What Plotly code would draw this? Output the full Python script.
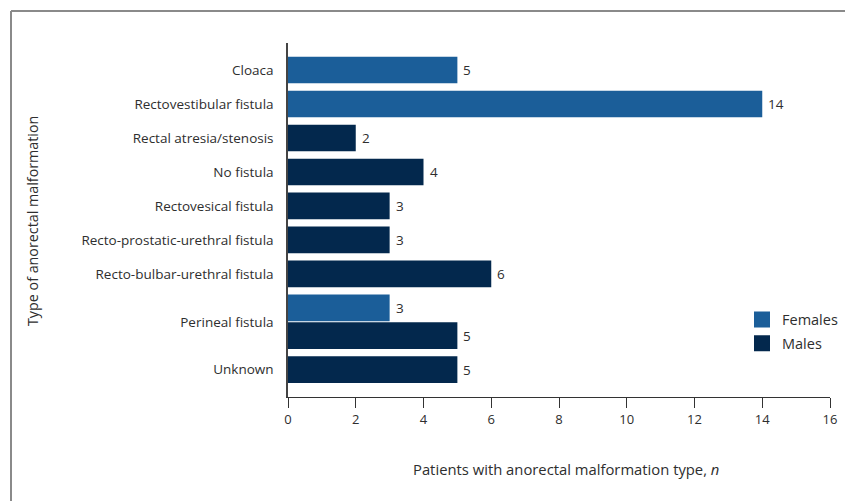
import plotly.graph_objects as go

# ---- data ----
categories = ["Cloaca", "Rectovestibular fistula", "Rectal atresia/stenosis", "No fistula",
              "Rectovesical fistula", "Recto-prostatic-urethral fistula",
              "Recto-bulbar-urethral fistula", "Perineal fistula", "Unknown"]
females = [5, 14, None, None, None, None, None, 3, None]
males = [None, None, 2, 4, 3, 3, 6, 5, 5]
x_ticks = [0, 2, 4, 6, 8, 10, 12, 14, 16]

FEM_COLOR = "#1B5E99"
MAL_COLOR = "#03284D"
TXT = "#2e2e2e"
FONT = "Open Sans"

# ---- category positions (derived from the number of bars per category) ----
BAR_W = 0.785
GAP = 0.03
nbars = [int(f is not None) + int(m is not None) for f, m in zip(females, males)]
extra = (BAR_W + GAP) / 2
centers = []
for i, n in enumerate(nbars):
    if i == 0:
        centers.append(0.0)
    else:
        centers.append(centers[-1] + 1 + extra * (nbars[i - 1] - 1) + extra * (n - 1))

fem_y, fem_x, mal_y, mal_x = [], [], [], []
for c, n, f, m in zip(centers, nbars, females, males):
    if n == 2:
        fem_y.append(c - extra); fem_x.append(f)
        mal_y.append(c + extra); mal_x.append(m)
    else:
        if f is not None:
            fem_y.append(c); fem_x.append(f)
        if m is not None:
            mal_y.append(c); mal_x.append(m)

fig = go.Figure()
fig.add_trace(go.Bar(y=fem_y, x=fem_x, orientation="h", name="Females", showlegend=False,
                     marker=dict(color=FEM_COLOR, line=dict(width=0)), width=BAR_W))
fig.add_trace(go.Bar(y=mal_y, x=mal_x, orientation="h", name="Males", showlegend=False,
                     marker=dict(color=MAL_COLOR, line=dict(width=0)), width=BAR_W))
# legend entries with larger square swatches
fig.add_trace(go.Scatter(x=[None], y=[None], mode="markers", name="Females", legendgroup="f",
                         marker=dict(symbol="square", size=16, color=FEM_COLOR)))
fig.add_trace(go.Scatter(x=[None], y=[None], mode="markers", name="Males", legendgroup="m",
                         marker=dict(symbol="square", size=16, color=MAL_COLOR)))

# ---- geometry ----
W, H = 837, 493
ml, mr, mt, mb = 280, 15, 35, 104
PW = W - ml - mr
PH = H - mt - mb


def px_x(x):
    return (x - ml) / PW


def px_y(y):
    return (H - mb - y) / PH


annotations = []
for yy, xx in list(zip(fem_y, fem_x)) + list(zip(mal_y, mal_x)):
    annotations.append(dict(x=xx, y=yy, xref="x", yref="y", text=str(xx), showarrow=False,
                            xanchor="left", yanchor="middle", xshift=4,
                            font=dict(family=FONT, size=13.5, color=TXT)))

annotations.append(dict(x=px_x(25), y=px_y(213), xref="paper", yref="paper",
                        text="Type of anorectal malformation", textangle=-90, showarrow=False,
                        xanchor="center", yanchor="middle",
                        font=dict(family=FONT, size=14.3, color=TXT)))
annotations.append(dict(x=px_x(558), y=px_y(461), xref="paper", yref="paper",
                        text="Patients with anorectal malformation type, <i>n</i>", showarrow=False,
                        xanchor="center", yanchor="middle",
                        font=dict(family=FONT, size=14.8, color=TXT)))

y_top = -0.794
y_bot = 9.62

fig.update_layout(
    width=W, height=H, autosize=False,
    margin=dict(l=ml, r=mr, t=mt, b=mb, autoexpand=False),
    paper_bgcolor="white", plot_bgcolor="white",
    barmode="overlay",
    showlegend=True,
    legend=dict(xref="container", yref="container", x=734 / W, y=1 - 323.5 / H,
                xanchor="left", yanchor="middle",
                font=dict(family=FONT, size=14.5, color=TXT),
                itemwidth=30, tracegroupgap=2, bgcolor="rgba(0,0,0,0)"),
    font=dict(family=FONT, color=TXT),
    annotations=annotations,
    shapes=[
        dict(type="line", xref="paper", yref="paper",
             x0=px_x(3), x1=1.2, y0=px_y(3), y1=px_y(3),
             line=dict(color="#8a8a8a", width=2)),
        dict(type="line", xref="paper", yref="paper",
             x0=px_x(3), x1=px_x(3), y0=px_y(3), y1=-0.5,
             line=dict(color="#8a8a8a", width=2)),
    ],
)

fig.update_xaxes(range=[0, 16], tickvals=x_ticks, ticks="outside", ticklen=10,
                 tickcolor="#333", tickwidth=1, showline=True, linecolor="#333", linewidth=1,
                 showgrid=False, zeroline=False, fixedrange=True, automargin=False,
                 tickfont=dict(family=FONT, size=13, color=TXT))
fig.update_yaxes(range=[y_bot, y_top], tickvals=centers, ticktext=categories,
                 ticks="", showline=True, linecolor="#444", linewidth=1.5,
                 showgrid=False, zeroline=False, ticklabelstandoff=10, automargin=False,
                 tickfont=dict(family=FONT, size=13.5, color=TXT))

fig.write_html("out.html")
